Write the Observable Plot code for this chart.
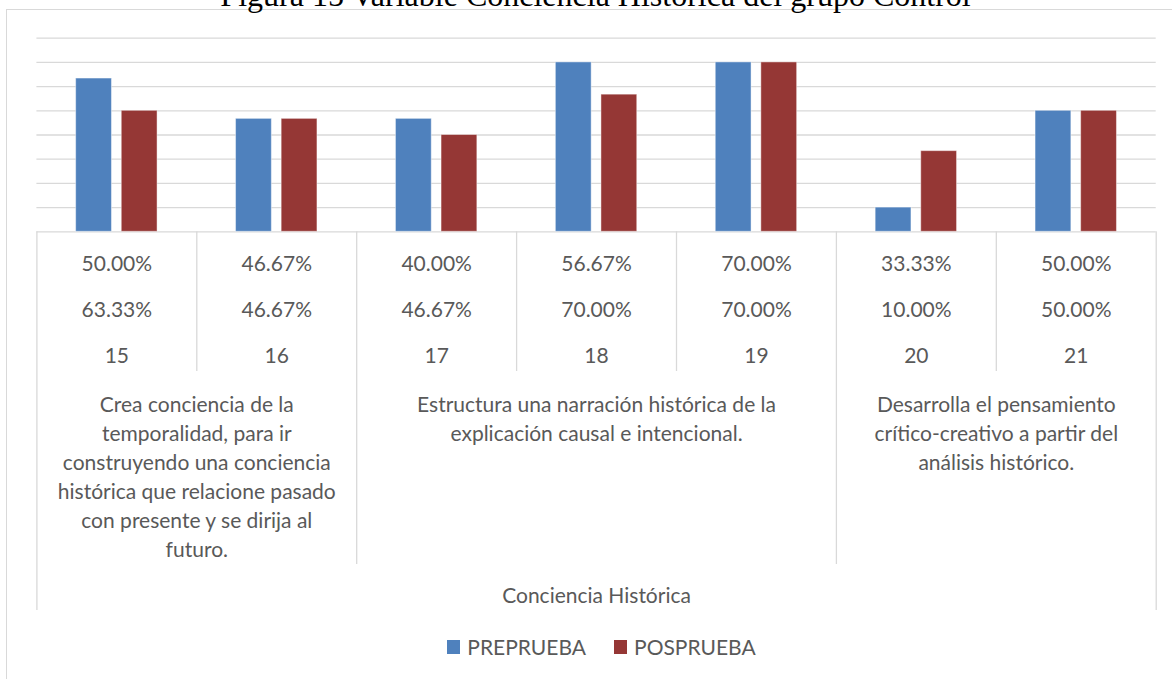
<!DOCTYPE html>
<html><head><meta charset="utf-8">
<script src="https://cdn.jsdelivr.net/npm/d3@7"></script>
<script src="https://cdn.jsdelivr.net/npm/@observablehq/plot@0.6"></script>
<style>
html,body{margin:0;padding:0;background:#fff;overflow:hidden;width:1172px;height:679px;}
#frame{position:absolute;left:6px;top:8.5px;width:1300px;height:800px;border:1.5px solid #d9d9d9;box-sizing:border-box;}
#title{position:absolute;left:0;top:-20.8px;width:1191px;text-align:center;font-family:"Liberation Serif","Times New Roman",serif;font-size:32px;line-height:32px;color:#000;white-space:nowrap;}
#chart{position:absolute;left:0;top:0;}
#legend{position:absolute;left:0;top:634px;width:1203px;display:flex;justify-content:center;align-items:center;font-family:Lato,sans-serif;font-size:21px;color:#595959;line-height:26px;}
.sw{width:13px;height:14px;display:inline-block;margin-right:7px;}
.item{display:flex;align-items:center;margin:0 14px;}
</style></head><body>
<div id="frame"></div>
<div id="title"></div>
<div id="chart"></div>
<div id="legend"></div>
<script>
const titleText = "Figura 15 Variable Conciencia Histórica del grupo Control";
const categories = ["15", "16", "17", "18", "19", "20", "21"];
const seriesNames = ["PREPRUEBA", "POSPRUEBA"];
const preprueba = [63.33, 46.67, 46.67, 70.00, 70.00, 10.00, 50.00];
const posprueba = [50.00, 46.67, 40.00, 56.67, 70.00, 33.33, 50.00];
const gridTicks = [0, 10, 20, 30, 40, 50, 60, 70, 80];
const groupLabels = [
  ["Crea conciencia de la", "temporalidad, para ir", "construyendo una conciencia", "histórica que relacione pasado", "con presente y se dirija al", "futuro."],
  ["Estructura una narración histórica de la", "explicación causal e intencional."],
  ["Desarrolla el pensamiento", "crítico-creativo a partir del", "análisis histórico."]
];
const groupCategories = [["15", "16"], ["17", "18", "19"], ["20", "21"]];
const axisTitle = "Conciencia Histórica";
const seriesColors = ["#4f81bd", "#953735"];

document.getElementById("title").textContent = titleText;

// layout
const W = 1172, H = 679;
const mTop = 37.7, baseY = 231.3, mLeft = 36.4, mRight = 16.3;
const mBottom = H - baseY;
const plotH = baseY - mTop;
const bw = (W - mLeft - mRight) / categories.length;
const barW = 35.8, gap = 9.8;
const c = bw / 2;
const grid = "#d9d9d9";
const txt = "#595959";
const fs = 21;

const rows = categories.map((cat, i) => ({cat, pre: preprueba[i], pos: posprueba[i]}));
const fmt = v => d3.format(".2f")(v) + "%";

const groupFirst = groupCategories.map(g => g[0]);
const groupStarts = groupFirst.slice(1);
const subDividers = categories.filter(cat => !groupFirst.includes(cat));

const marks = [
  Plot.ruleY(gridTicks, {y: d => d, stroke: grid, strokeWidth: 1.3}),
  Plot.barY(rows, {x: "cat", y: "pre", fill: seriesColors[0], insetLeft: c - gap / 2 - barW, insetRight: c + gap / 2, stroke: "white", strokeOpacity: 0.45, strokeWidth: 1}),
  Plot.barY(rows, {x: "cat", y: "pos", fill: seriesColors[1], insetLeft: c + gap / 2, insetRight: c - gap / 2 - barW, stroke: "white", strokeOpacity: 0.45, strokeWidth: 1}),
  // table lines
  Plot.ruleX(subDividers, {x: d => d, dx: -bw / 2, insetTop: plotH, insetBottom: -(371 - baseY), stroke: grid, strokeWidth: 1.3}),
  Plot.ruleX(groupStarts, {x: d => d, dx: -bw / 2, insetTop: plotH, insetBottom: -(564 - baseY), stroke: grid, strokeWidth: 1.3}),
  Plot.ruleX([categories[0]], {x: d => d, dx: -bw / 2, insetTop: plotH, insetBottom: -(610 - baseY), stroke: grid, strokeWidth: 1.3}),
  Plot.ruleX([categories[categories.length - 1]], {x: d => d, dx: bw / 2, insetTop: plotH, insetBottom: -(610 - baseY), stroke: grid, strokeWidth: 1.3}),
  // table rows
  Plot.text(rows, {x: "cat", text: d => fmt(d.pos), frameAnchor: "bottom", dy: 32, lineAnchor: "middle", fill: txt, fontSize: fs}),
  Plot.text(rows, {x: "cat", text: d => fmt(d.pre), frameAnchor: "bottom", dy: 78, lineAnchor: "middle", fill: txt, fontSize: fs}),
  Plot.text(rows, {x: "cat", text: d => d.cat, frameAnchor: "bottom", dy: 124.7, lineAnchor: "middle", fill: txt, fontSize: fs}),
  // group labels
  ...groupLabels.map((lines, gi) => Plot.text([lines.join("\n")], {
    x: () => groupCategories[gi][0], text: d => d,
    dx: (groupCategories[gi].length - 1) * bw / 2,
    frameAnchor: "bottom", lineAnchor: "top", lineHeight: 29 / fs, dy: 159.5,
    fill: txt, fontSize: fs
  })),
  Plot.text([axisTitle], {text: d => d, frameAnchor: "bottom", dy: 364.7, lineAnchor: "middle", fill: txt, fontSize: fs})
];

const chart = Plot.plot({
  width: W, height: H,
  marginTop: mTop, marginBottom: mBottom, marginLeft: mLeft, marginRight: mRight,
  x: {domain: categories, padding: 0, round: false, axis: null},
  y: {domain: [0, 80], axis: null},
  style: {background: "transparent", overflow: "visible", fontFamily: "Lato, sans-serif"},
  marks
});
document.getElementById("chart").appendChild(chart);

// legend
const legend = document.getElementById("legend");
seriesNames.forEach((name, i) => {
  const item = document.createElement("div");
  item.className = "item";
  const sw = document.createElement("span");
  sw.className = "sw";
  sw.style.background = seriesColors[i];
  const t = document.createElement("span");
  t.textContent = name;
  item.appendChild(sw); item.appendChild(t);
  legend.appendChild(item);
});
</script>
</body></html>
